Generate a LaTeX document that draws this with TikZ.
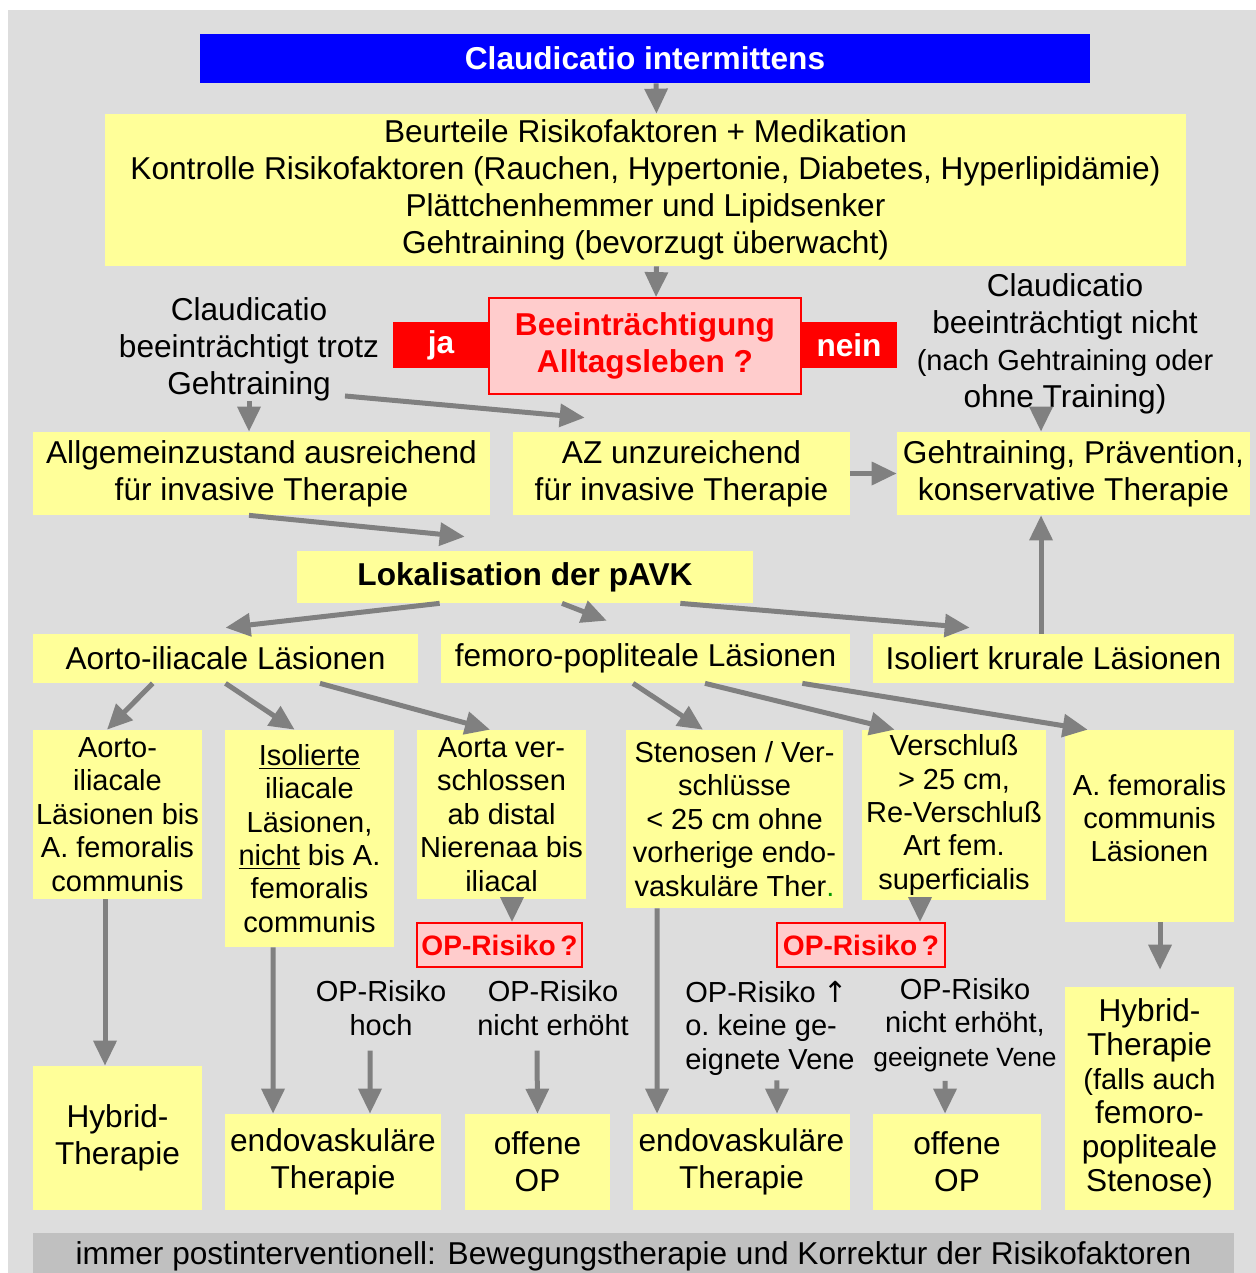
\documentclass[tikz,border=0pt]{standalone}
\usepackage{fontspec}
\setmainfont{Liberation Sans}
\newfontfamily\symfont{DejaVu Sans}
\usepackage{xcolor}
\usepackage{tikz}
\usetikzlibrary{arrows.meta}
\definecolor{bggray}{HTML}{DDDDDD}
\definecolor{bargray}{HTML}{C0C0C0}
\definecolor{boxyellow}{HTML}{FFFF99}
\definecolor{arrowgray}{HTML}{808080}
\definecolor{askpink}{HTML}{FFCCCC}
\newcommand{\bigsz}{\fontsize{18}{21}\selectfont}
\newcommand{\smallsz}{\fontsize{16.5}{19}\selectfont}
\begin{document}
\begin{tikzpicture}[x=0.02cm, y=-0.02cm,
  box/.style={fill=boxyellow, inner sep=1pt, align=center, font=\bigsz},
  smallbox/.style={box, font=\smallsz},
  txt/.style={inner sep=0pt, align=center, font=\bigsz},
  smalltxt/.style={txt, font=\smallsz},
  ask/.style={fill=askpink, draw=red, line width=1pt, text=red, inner sep=1pt, align=center},
  yesno/.style={fill=red, text=white, inner sep=1pt, font=\bfseries\bigsz, minimum width=1.92cm, minimum height=0.92cm},
  arr/.style={draw=arrowgray, line width=0.1cm, -{Triangle[length=0.5cm,width=0.45cm]}}]
\useasboundingbox (0,0) rectangle (1256,1273);
\fill [bggray] (8,10) rectangle (1256,1273);
\node [box, fill=blue, text=white, font=\bfseries\bigsz, minimum width=17.8cm, minimum height=0.98cm] (title) at (645,58.5) {Claudicatio intermittens};
\node [box, minimum width=21.62cm, minimum height=3.04cm] (risk) at (645.5,190) {Beurteile Risikofaktoren + Medikation\\Kontrolle Risikofaktoren (Rauchen, Hypertonie, Diabetes, Hyperlipidämie)\\Plättchenhemmer und Lipidsenker\\Gehtraining (bevorzugt überwacht)};
\node [ask, font=\bfseries\bigsz, minimum width=6.24cm, minimum height=1.92cm] (dec) at (645,346) {Beeinträchtigung\\Alltagsleben ?};
\node [yesno] (ja) at (441,345) {ja};
\node [yesno] (nein) at (849,345) {nein};
\node [txt] (trotz) at (249,349) {Claudicatio\\beeinträchtigt trotz\\Gehtraining};
\node [txt] (nicht) at (1065,344) {Claudicatio\\beeinträchtigt nicht\\\smallsz(nach Gehtraining oder\\ohne Training)};
\node [box, minimum width=9.14cm, minimum height=1.66cm] (azok) at (261.5,473.5) {Allgemeinzustand ausreichend\\für invasive Therapie};
\node [box, minimum width=6.74cm, minimum height=1.66cm] (azbad) at (681.5,473.5) {AZ unzureichend\\für invasive Therapie};
\node [box, minimum width=7.06cm, minimum height=1.66cm] (konserv) at (1073.5,473.5) {Gehtraining, Prävention,\\konservative Therapie};
\node [box, font=\bfseries\bigsz, minimum width=9.12cm, minimum height=1.04cm] (lokal) at (525,577) {Lokalisation der pAVK};
\node [box, minimum width=7.7cm, minimum height=0.98cm] (aorto) at (225.5,658.5) {Aorto-iliacale Läsionen};
\node [box, minimum width=8.18cm, minimum height=0.98cm] (femoro) at (645.5,658.5) {femoro-popliteale Läsionen};
\node [box, minimum width=7.22cm, minimum height=0.98cm] (krural) at (1053.5,658.5) {Isoliert krurale Läsionen};
\node [smallbox, minimum width=3.38cm, minimum height=3.38cm] (aib) at (117.5,814.5) {Aorto-\\iliacale\\Läsionen bis\\A. femoralis\\communis};
\node [smallbox, minimum width=3.38cm, minimum height=4.34cm] (iso) at (309.5,838.5) {\underline{Isolierte}\\iliacale\\Läsionen,\\\underline{nicht} bis A.\\femoralis\\communis};
\node [smallbox, minimum width=3.38cm, minimum height=3.38cm] (aorta) at (501.5,814.5) {Aorta ver-\\schlossen\\ab distal\\Nierenaa bis\\iliacal};
\node [smallbox, minimum width=4.34cm, minimum height=3.56cm] (sten) at (734.5,819) {Stenosen / Ver-\\schlüsse\\< 25 cm ohne\\vorherige endo-\\vaskuläre Ther\textcolor{green!60!black}{.}};
\node [smallbox, minimum width=3.68cm, minimum height=3.4cm] (vers) at (954,815) {Verschluß\\> 25 cm,\\Re-Verschluß\\Art fem.\\superficialis};
\node [smallbox, text depth=0.32cm, minimum width=3.38cm, minimum height=3.84cm] (afc) at (1149.5,826) {A. femoralis\\communis\\Läsionen};
\node [ask, font=\bfseries\fontsize{16}{19}\selectfont, minimum width=3.3cm, minimum height=0.88cm] (opr1) at (499.5,945) {OP-Risiko\,?};
\node [ask, font=\bfseries\fontsize{16}{19}\selectfont, minimum width=3.36cm, minimum height=0.88cm] (opr2) at (861,945) {OP-Risiko\,?};
\node [smalltxt] (hoch) at (381,1008) {OP-Risiko\\hoch};
\node [smalltxt] (nerh) at (553,1008) {OP-Risiko\\nicht erhöht};
\node [smalltxt, align=left, anchor=west] (keine) at (685,1028) {OP-Risiko {\symfont ↑}\\o.\ keine ge-\\eignete Vene};
\node [smalltxt] (geeig) at (965,1025) {OP-Risiko\\nicht erhöht,\\\fontsize{15}{17}\selectfont geeignete Vene};
\node [box, minimum width=3.38cm, minimum height=2.88cm] (hyb1) at (117.5,1138) {Hybrid-\\Therapie};
\node [box, minimum width=4.32cm, minimum height=1.92cm] (endo1) at (333,1162) {endovaskuläre\\Therapie};
\node [box, minimum width=2.9cm, minimum height=1.92cm] (off1) at (537.5,1162) {offene\\OP};
\node [box, minimum width=4.34cm, minimum height=1.92cm] (endo2) at (741.5,1162) {endovaskuläre\\Therapie};
\node [box, minimum width=3.36cm, minimum height=1.92cm] (off2) at (957,1162) {offene\\OP};
\node [box, font=\fontsize{18}{19.3}\selectfont, minimum width=3.38cm, minimum height=4.46cm] (hyb2) at (1149.5,1098.5) {Hybrid-\\Therapie\\\smallsz(falls auch\\femoro-\\popliteale\\Stenose)};
\node [box, fill=bargray, text height=13pt, text depth=0pt, minimum width=24.02cm, minimum height=0.8cm] (bar) at (633.5,1253) {immer postinterventionell: Bewegungstherapie und Korrektur der Risikofaktoren};
\coordinate (n1) at ([xshift=-0.48cm]nicht.south);
\draw [arr] ([xshift=0.22cm]title.south) -- ([xshift=0.22cm]risk.north);
\draw [arr] ([xshift=0.22cm]risk.south) -- ([xshift=0.22cm]dec.north);
\draw [arr] (trotz.south) -- (trotz.south |- azok.north);
\draw [arr] ([xshift=1.92cm,yshift=0.1cm]trotz.south) -- ([shift={(72,-14)}]azbad.north west);
\draw [arr] (n1) -- (n1 |- konserv.north);
\draw [arr] (azbad.east) -- (konserv.west);
\draw [arr] ([xshift=-0.25cm]azok.south) -- ([shift={(168,-14)}]lokal.north west);
\draw [arr] ([xshift=2.86cm]lokal.south west) -- ([yshift=0.12cm]aorto.north);
\draw [arr] ([xshift=0.74cm]lokal.south) -- ([shift={(166,-13)}]femoro.north west);
\draw [arr] ([xshift=-1.46cm]lokal.south east) -- ([shift={(97,-6)}]krural.north west);
\draw [arr] (n1 |- krural.north) -- (n1 |- konserv.south);
\draw [arr] ([xshift=2.4cm]aorto.south west) -- ([xshift=-0.21cm]aib.north);
\draw [arr] (aorto.south) -- ([xshift=1.4cm]iso.north west);
\draw [arr] ([xshift=1.89cm]aorto.south) -- ([xshift=-0.23cm]aorta.north);
\draw [arr] ([xshift=-0.25cm]femoro.south) -- ([xshift=-0.63cm]sten.north);
\draw [arr] ([xshift=1.19cm]femoro.south) -- ([xshift=0.66cm]vers.north west);
\draw [arr] ([xshift=-0.96cm]femoro.south east) -- ([xshift=0.46cm]afc.north west);
\draw [arr] ([xshift=0.21cm]aorta.south) -- ([xshift=0.25cm]opr1.north);
\draw [arr] ([xshift=-0.68cm]vers.south) -- ([xshift=1.18cm]opr2.north);
\draw [arr] ([xshift=-0.25cm]aib.south) -- ([xshift=-0.25cm]hyb1.north);
\draw [arr] ([xshift=-0.73cm]iso.south) -- ([xshift=-1.2cm]endo1.north);
\draw [arr] ([xshift=-0.22cm,yshift=-0.3cm]hoch.south) -- ([xshift=0.74cm]endo1.north);
\draw [arr] ([xshift=-0.32cm,yshift=-0.3cm]nerh.south) -- (off1.north);
\draw [arr] ([xshift=-1.55cm]sten.south) -- ([xshift=-1.69cm]endo2.north);
\draw [arr] ([xshift=1.84cm,yshift=-0.1cm]keine.south west) -- ([xshift=0.71cm]endo2.north);
\draw [arr] ([xshift=-0.4cm,yshift=-0.18cm]geeig.south) -- ([xshift=-0.24cm]off2.north);
\draw [arr] ([xshift=0.21cm]afc.south) -- ([xshift=0.21cm,yshift=0.34cm]hyb2.north);
\end{tikzpicture}
\end{document}
